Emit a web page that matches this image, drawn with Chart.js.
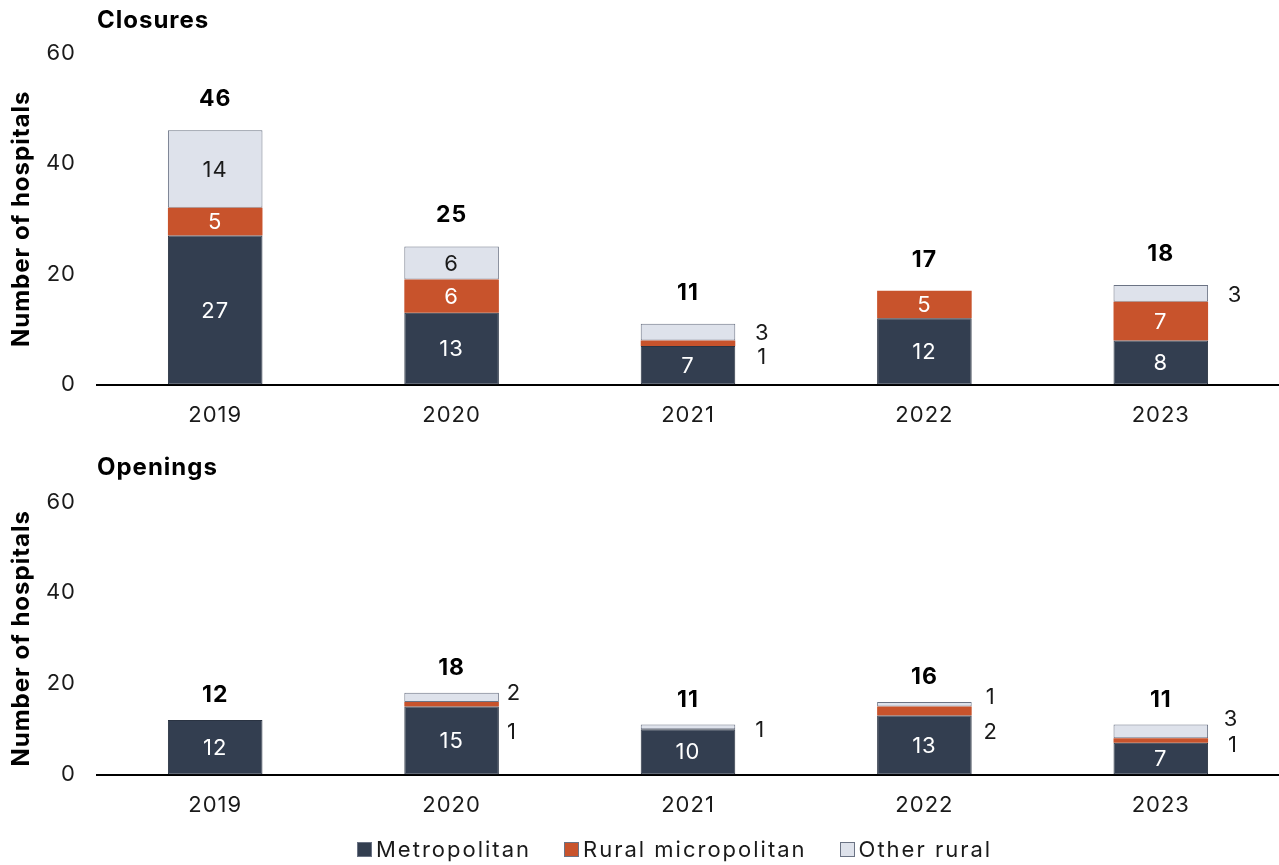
<!DOCTYPE html>
<html>
<head>
<meta charset="utf-8">
<script src="https://cdn.jsdelivr.net/npm/chart.js@4/dist/chart.umd.min.js"></script>
<style>
  html, body { margin: 0; padding: 0; background: #fff; overflow: hidden; }
  body { width: 1279px; height: 865px; position: relative; font-family: Inter, sans-serif; }
  .box { position: absolute; left: 0; width: 1279px; }
  #legend { position: absolute; top: 836px; left: 357px; display: flex; align-items: center;
            font: 400 22px Inter, sans-serif; letter-spacing: 2px; color: #1a1a1a; white-space: nowrap; }
  #legend span.item { display: flex; align-items: center; margin-right: 33px; }
  #legend i { display: inline-block; width: 13px; height: 13px; border: 1px solid #6b7384; margin-right: 4px; }
</style>
</head>
<body>
<div class="box" style="top:0;height:447px"><canvas id="closures"></canvas></div>
<div class="box" style="top:440px;height:397px"><canvas id="openings"></canvas></div>
<div id="legend"></div>

<script>
// years on the x axis
var years = ['2019', '2020', '2021', '2022', '2023'];
var seriesNames = ['Metropolitan', 'Rural micropolitan', 'Other rural'];

// hospital closures by area type
var closuresMetro = [27, 13, 7, 12, 8];
var closuresMicro = [5, 6, 1, 5, 7];
var closuresOther = [14, 6, 3, 0, 3];

// hospital openings by area type
var openingsMetro = [12, 15, 10, 13, 7];
var openingsMicro = [0, 1, 0, 2, 1];
var openingsOther = [0, 2, 1, 1, 3];

var yTicks = [0, 20, 40, 60];

var fills = ['#333e50', '#c8532c', '#dee2eb'];
var borderCol = '#6b7384';
var textCol = '#1a1a1a';

// label offsets for small segments drawn beside the bar: 'dataset-index' -> [dx from bar edge, dy]
var closuresNudge = { '2-2': [27, 1], '1-2': [27, 14], '2-4': [27, 2] };
var openingsNudge = {
    '2-1': [15, -4], '1-1': [13, 28],
    '2-2': [25, 3],
    '2-3': [19, -7], '1-3': [19, 21],
    '2-4': [23, -12], '1-4': [25, 5]
};

// wider tracking for all canvas text
var tracking = {
    id: 'tracking',
    beforeInit: function(chart) { chart.ctx.letterSpacing = '1px'; },
    beforeDraw: function(chart) { chart.ctx.letterSpacing = '1px'; }
};

//draws values inside segments, beside thin segments, and totals on top
var segmentLabels = {
    id: 'segmentLabels',
    afterDatasetsDraw: function(chart, args, opts) {
        var ctx = chart.ctx;
        var xs = [];
        ctx.save();
        ctx.letterSpacing = '1px';
        ctx.textBaseline = 'middle';
        ctx.font = '400 22px Inter';
        chart.data.datasets.forEach(function(ds, di) {
            var meta = chart.getDatasetMeta(di);
            meta.data.forEach(function(bar, i) {
                var v = ds.data[i];
                var p = bar.getProps(['x', 'y', 'base', 'width'], true);
                xs[i] = p.x;
                if (!v) return;
                var h = p.base - p.y;
                var cy = (p.y + p.base) / 2;
                ctx.textAlign = 'center';
                if (h >= 22) {
                    ctx.fillStyle = di === 2 ? textCol : '#ffffff';
                    ctx.fillText(v, p.x, cy + 1);
                } else {
                    var n = opts.nudge[di + '-' + i] || [25, 0];
                    ctx.fillStyle = textCol;
                    ctx.fillText(v, p.x + p.width / 2 + n[0], cy + n[1]);
                }
            });
        });
        // bar totals
        ctx.font = '700 23px Inter';
        ctx.fillStyle = '#000';
        xs.forEach(function(x, i) {
            var sum = 0;
            chart.data.datasets.forEach(function(ds) { sum += ds.data[i]; });
            var top = chart.scales.y.getPixelForValue(sum);
            ctx.fillText(sum, x, top - opts.totalGap);
        });
        ctx.restore();
    }
};

function makeDatasets(a, b, c) {
    return [a, b, c].map(function(d, k) {
        return {
            label: seriesNames[k],
            data: d,
            backgroundColor: fills[k],
            borderColor: k === 0 ? '#2a3342' : borderCol,
            borderWidth: k === 1 ? 0 : 1,
            borderSkipped: false,
            categoryPercentage: 1,
            barPercentage: 0.4
        };
    });
}

function makeChart(id, title, datasets, pad, nudge, totalGap) {
    return new Chart(document.getElementById(id), {
        type: 'bar',
        data: { labels: years, datasets: datasets },
        plugins: [tracking, segmentLabels],
        options: {
            responsive: true,
            maintainAspectRatio: false,
            animation: false,
            layout: { padding: { top: 0, bottom: 0, left: 0, right: 0 } },
            plugins: {
                legend: { display: false },
                tooltip: { enabled: false },
                title: {
                    display: true,
                    text: title,
                    align: 'start',
                    fullSize: false,
                    color: '#000',
                    font: { family: 'Inter', size: 24, weight: '700', lineHeight: 1.1 },
                    padding: { top: pad.titleTop, bottom: pad.titleBottom }
                },
                segmentLabels: { nudge: nudge, totalGap: totalGap }
            },
            scales: {
                x: {
                    stacked: true,
                    grid: { display: false, drawTicks: false },
                    border: { display: true, color: '#000', width: 2 },
                    ticks: { color: textCol, padding: 18, font: { family: 'Inter', size: 22, lineHeight: 1.2 } }
                },
                y: {
                    stacked: true,
                    min: 0,
                    max: 60,
                    afterBuildTicks: function(scale) {
                        scale.ticks = yTicks.map(function(v) { return { value: v }; });
                    },
                    afterFit: function(scale) { scale.width = 97; },
                    grid: { display: false, drawTicks: false },
                    border: { display: false },
                    ticks: { color: textCol, padding: 21, font: { family: 'Inter', size: 22, lineHeight: 1.2 } },
                    title: {
                        display: true,
                        text: 'Number of hospitals',
                        color: '#000',
                        font: { family: 'Inter', size: 24, weight: '700', lineHeight: 1.1 },
                        padding: { top: 9, bottom: 0 }
                    }
                }
            }
        }
    });
}

makeChart('closures', 'Closures', makeDatasets(closuresMetro, closuresMicro, closuresOther),
    { titleTop: 8, titleBottom: 18.6 }, closuresNudge, 31);
makeChart('openings', 'Openings', makeDatasets(openingsMetro, openingsMicro, openingsOther),
    { titleTop: 14.8, titleBottom: 20.8 }, openingsNudge, 25);

// legend row
var legend = document.getElementById('legend');
seriesNames.forEach(function(name, k) {
    var item = document.createElement('span');
    item.className = 'item';
    var sw = document.createElement('i');
    sw.style.background = fills[k];
    item.appendChild(sw);
    item.appendChild(document.createTextNode(name));
    legend.appendChild(item);
});
</script>
</body>
</html>
